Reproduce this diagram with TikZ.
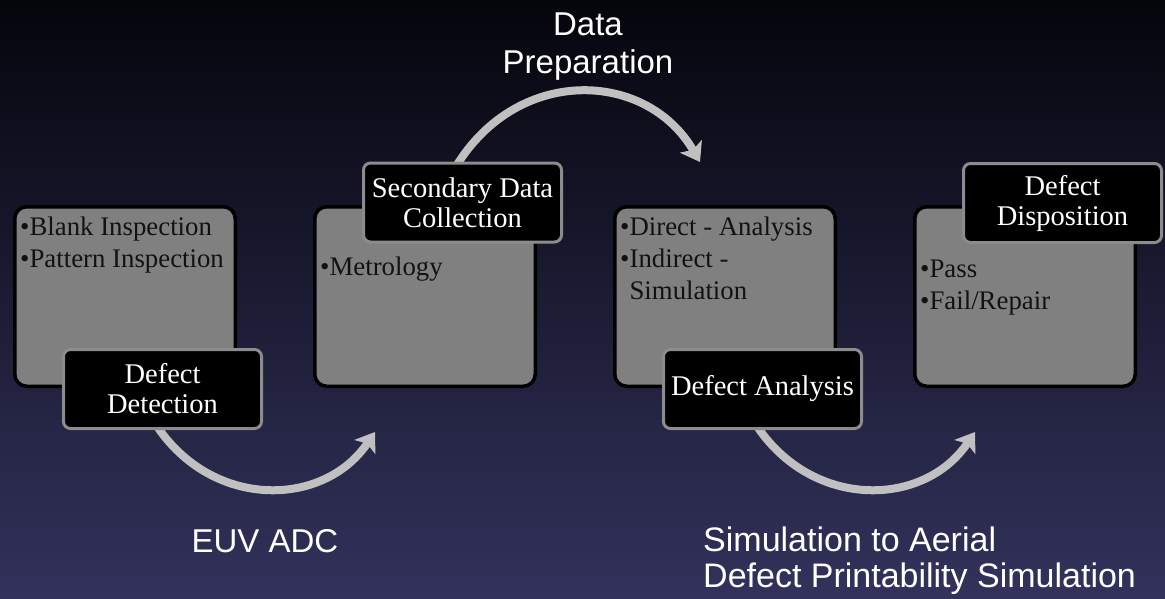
\documentclass[tikz,border=0pt]{standalone}
\usepackage{fontspec}
\setmainfont{Liberation Serif}
\newfontfamily\sansf{Liberation Sans}
\usetikzlibrary{arrows.meta}
\definecolor{bgtop}{RGB}{5,5,12}
\definecolor{bgmid}{RGB}{22,22,48}
\definecolor{bgbot}{RGB}{50,50,92}
\definecolor{boxgray}{RGB}{128,128,128}
\definecolor{lblborder}{RGB}{140,140,140}
\definecolor{arrowgray}{RGB}{192,192,192}
\definecolor{boxtext}{RGB}{18,18,18}
\pgfdeclarelayer{bglayer}
\pgfdeclarelayer{arrowlayer}
\pgfsetlayers{bglayer,arrowlayer,main}
\newcommand{\natspace}{\spaceskip=0pt\relax}
\begin{document}
\begin{tikzpicture}[x=1pt,y=-1pt,
  graybox/.style={draw=black, line width=3.5pt, fill=boxgray, rounded corners=12pt,
    minimum width=220.5pt, minimum height=179.5pt, inner sep=0pt},
  lblbox/.style={draw=lblborder, line width=3pt, fill=black, rounded corners=7pt,
    minimum width=198pt, minimum height=79pt, inner sep=0pt, text=white, align=center,
    font=\fontsize{28.5}{30}\selectfont},
  boxtxt/.style={anchor=base west, inner sep=0pt, text width=212pt, align=left,
    text=boxtext, font=\fontsize{26.8}{32}\selectfont},
  sanstxt/.style={text=white, inner sep=0pt, font=\sansf\fontsize{33}{38}\selectfont},
  flow/.style={draw=arrowgray, line width=8pt,
    -{Stealth[length=18pt, width=25pt, inset=4pt]}}]
\useasboundingbox (0,0) rectangle (1165,598);
\begin{pgfonlayer}{bglayer}
\shade[top color=bgtop, middle color=bgmid, bottom color=bgbot] (0,0) rectangle (1165,598);
\end{pgfonlayer}

% gray boxes
\node[graybox] (b1) at (125,296.5) {};
\node[graybox] (b2) at (425,296.5) {};
\node[graybox] (b3) at (725,296.5) {};
\node[graybox] (b4) at (1025,296.5) {};

% box texts
\node[boxtxt] (t1) at (20,235) {\natspace •Blank Inspection\\•Pattern Inspection};
\node[boxtxt] (t2) at (320,275) {\natspace •Metrology};
\node[boxtxt] (t3) at (620,235) {\natspace •Direct - Analysis\\•Indirect -\\\hphantom{•}Simulation};
\node[boxtxt] (t4) at (920,277) {\natspace •Pass\\•Fail/Repair};

% labels
\node[lblbox] (det) at (162.5,389) {Defect\\Detection};
\node[lblbox] (sdc) at (462.5,202.5) {Secondary Data\\Collection};
\node[lblbox] (dan) at (762.5,389) {Defect Analysis};
\node[lblbox] (dis) at (1062.5,203) {Defect\\Disposition};

% arrow end points
\coordinate (e1) at (375,432);
\coordinate (e2) at (700,162);
\coordinate (e3) at (975,432);

% arrows (below labels)
\begin{pgfonlayer}{arrowlayer}
\draw[flow] ([xshift=-9.5pt,yshift=10pt]det.south) .. controls +(55,90) and +(-52,77) .. (e1);
\draw[flow] ([xshift=-9.5pt,yshift=-10pt]sdc.north) .. controls +(61,-107) and +(-54,-93) .. (e2);
\draw[flow] ([xshift=-9.5pt,yshift=10pt]dan.south) .. controls +(55,90) and +(-52,77) .. (e3);
\end{pgfonlayer}

% free texts
\node[sanstxt, anchor=base, text width=250pt, align=center] (dp) at (588,35) {Data\\Preparation};
\node[sanstxt, anchor=base] (euv) at (265,552) {EUV ADC};
\node[sanstxt, anchor=base west, text width=460pt, align=left,
  font=\sansf\fontsize{34}{36}\selectfont] (sim) at (703,551)
  {\natspace Simulation to Aerial\\Defect Printability Simulation};
\end{tikzpicture}
\end{document}
